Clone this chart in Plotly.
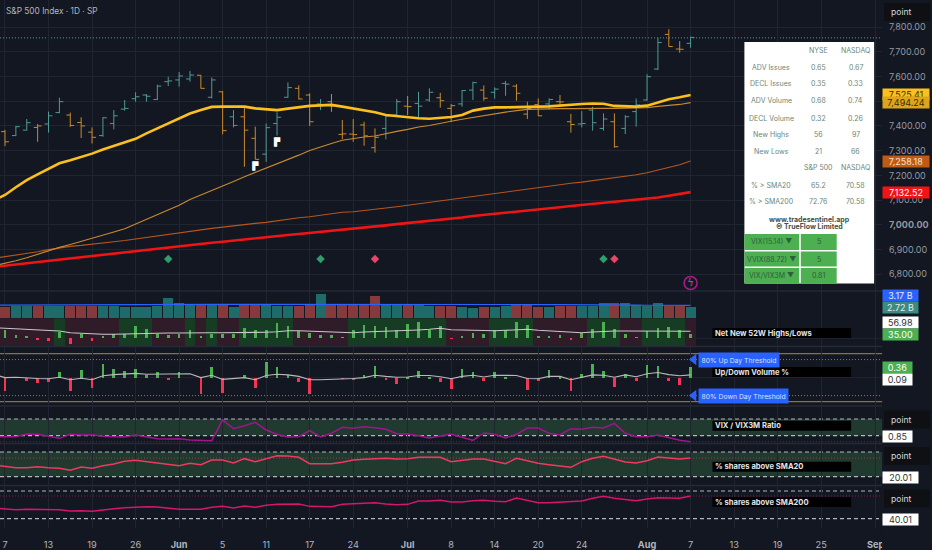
import plotly.graph_objects as go

# daily bars
opens = [7377,7361,7383,7394,7408,7454,7444,7414,7375,7361,7410,7468,7510,7525,7507,7579,7586,7590,7605,7516,7538,7437,7437,7350,7286,7410,7516,7552,7525,7489,7498,7366,
         7367,7404,7312,7390,7444,7480,7491,7505,7514,7471,7489,7545,7545,7536,7572,7561,7448,7486,7489,7498,7417,7408,7464,7390,7417,7390,7458,7505,7630,7770,7711,7734]
highs = [7384,7400,7428,7408,7458,7514,7454,7435,7394,7435,7464,7505,7536,7529,7567,7599,7618,7622,7606,7596,7541,7464,7480,7397,7410,7455,7576,7564,7532,7509,7529,7424,
         7428,7417,7390,7440,7509,7521,7538,7552,7534,7489,7545,7579,7564,7556,7582,7569,7498,7511,7511,7525,7449,7460,7478,7451,7451,7444,7511,7609,7757,7791,7743,7761]
lows = [7319,7359,7381,7336,7373,7451,7396,7351,7329,7356,7386,7462,7498,7498,7505,7561,7559,7579,7551,7511,7366,7394,7235,7265,7255,7361,7514,7507,7400,7464,7457,7346,
        7336,7320,7292,7346,7437,7444,7427,7498,7474,7417,7478,7505,7502,7510,7522,7502,7428,7440,7467,7482,7373,7394,7381,7381,7312,7367,7397,7502,7626,7721,7696,7716]
closes = [7336,7397,7413,7400,7441,7498,7402,7400,7354,7433,7441,7471,7518,7520,7561,7582,7602,7606,7552,7586,7381,7402,7383,7265,7393,7435,7555,7509,7417,7485,7481,7368,
          7365,7360,7354,7440,7498,7478,7480,7536,7502,7482,7543,7575,7512,7549,7569,7532,7470,7441,7507,7497,7406,7410,7413,7428,7316,7437,7485,7599,7737,7721,7710,7758]

# the line series start one session before the first bar, off the left edge
sma20 = [7100,7121,7152,7181,7204,7226,7249,7261,7273,7288,7305,7320,7332,7348,7370,7390,7410,7431,7450,7464,7477,7478,7478,7478,7471,7467,7464,7470,7477,7481,7483,7485,7478,
         7471,7464,7455,7444,7439,7435,7431,7429,7431,7436,7444,7462,7470,7475,7475,7477,7477,7478,7479,7483,7486,7489,7491,7490,7481,7478,7478,7482,7495,7508,7516,7525.41]
sma50 = [6835,6844,6855,6867,6882,6896,6909,6921,6933,6944,6956,6971,6984,7003,7021,7040,7060,7079,7103,7121,7137,7156,7175,7195,7212,7231,7245,7265,7282,7301,7316,7329,7342,
         7350,7355,7359,7370,7378,7386,7396,7402,7409,7419,7427,7435,7441,7449,7456,7462,7467,7468,7470,7470,7470,7471,7471,7471,7471,7471,7471,7474,7479,7483,7487,7494.24]
sma100 = [6865,6871,6878,6885,6891,6900,6908,6913,6917,6921,6927,6932,6937,6943,6951,6958,6964,6970,6976,6982,6986,6991,6997,7001,7006,7010,7017,7024,7029,7033,7040,7045,7051,
          7053,7057,7063,7068,7073,7079,7084,7090,7095,7102,7107,7114,7121,7127,7134,7139,7146,7152,7157,7162,7168,7173,7179,7184,7189,7196,7203,7211,7222,7232,7243,7258.18]
sma200 = [6830,6835,6839,6844,6850,6854,6859,6865,6869,6874,6879,6883,6889,6894,6898,6904,6909,6913,6918,6923,6928,6932,6937,6941,6945,6951,6955,6959,6963,6967,6971,6975,6980,
          6986,6990,6994,6998,7003,7007,7013,7017,7021,7026,7030,7036,7040,7044,7049,7053,7059,7063,7067,7071,7076,7080,7084,7088,7092,7096,7100,7104,7111,7118,7125,7132.52]

# volume in billions
volume = [2.88,2.97,3.05,2.97,2.97,2.97,2.97,2.97,2.97,3.05,3.05,2.80,2.88,2.88,3.05,5.11,3.71,3.46,3.30,3.30,3.63,2.80,3.30,3.30,3.46,2.97,3.13,3.05,3.46,6.02,3.54,3.46,
          3.46,3.46,5.52,3.46,3.63,3.46,3.46,3.05,3.05,3.05,2.88,2.55,2.80,2.88,3.13,3.30,3.21,2.80,2.88,3.05,3.13,3.05,3.05,3.71,3.71,3.71,3.30,3.05,3.71,3.05,3.05,2.72]
volume_avg = [3.25,3.25,3.25,3.27,3.27,3.28,3.28,3.28,3.30,3.30,3.30,3.30,3.30,3.30,3.30,3.32,3.38,3.40,3.42,3.42,3.42,3.44,3.44,3.44,3.44,3.46,3.46,3.46,3.46,3.48,3.52,3.54,3.54,
              3.54,3.54,3.56,3.56,3.56,3.56,3.56,3.55,3.55,3.54,3.54,3.52,3.52,3.50,3.50,3.50,3.48,3.45,3.40,3.36,3.32,3.30,3.28,3.28,3.28,3.26,3.24,3.22,3.22,3.20,3.18,3.17]

net_highs = [67,24,13,-19,-27,48,-45,35,-27,11,29,32,93,75,35,27,35,61,11,35,35,29,80,67,67,123,99,53,40,27,27,8,
             61,101,99,88,61,115,125,67,99,-8,19,43,35,61,61,131,107,19,16,27,-16,43,75,131,75,32,8,59,80,91,61,35]
net_highs_ma = [85,80,77,72,69,64,59,45,40,32,32,32,35,40,40,40,43,43,45,45,45,45,45,45,45,48,53,61,61,59,56,51,48,
                45,51,53,56,59,61,67,72,80,69,67,64,59,61,64,69,72,64,59,53,48,45,51,56,59,59,59,59,59,61,61,56.98]
breadth_up = [0,0,0,0,0,1,0,0,0,0,0,1,1,1,0,0,0,1,0,1,0,0,1,1,1,1,1,0,0,0,0,0,
              1,1,1,1,1,1,1,1,1,0,0,0,0,1,1,1,1,0,0,0,0,0,1,1,1,0,0,1,1,1,1,0]

updown = [-0.43,0.0,-0.10,-0.17,-0.14,0.22,-0.43,0.26,-0.33,0.46,0.31,0.23,0.30,0.12,0.19,-0.04,0.19,0.0,-0.54,0.36,-0.51,-0.03,0.12,-0.34,0.52,0.36,0.10,-0.14,-0.54,0.0,0.0,-0.03,
          -0.04,0.12,0.40,-0.04,-0.19,0.01,0.24,0.01,-0.14,-0.36,0.29,0.20,-0.11,0.20,0.01,0.0,-0.38,-0.11,0.26,0.05,-0.44,0.14,0.48,0.24,-0.30,0.13,-0.10,0.44,0.41,-0.11,-0.23,0.36]
updown_ma = [0.11,0.0,0.01,-0.02,-0.03,-0.04,0.01,-0.07,-0.02,-0.07,0.06,0.10,0.12,0.14,0.11,0.12,0.13,0.14,0.13,0.0,0.08,-0.06,-0.03,0.0,-0.07,0.07,0.11,0.09,0.04,-0.07,-0.07,-0.06,-0.05,
             -0.03,0.0,0.08,0.04,0.01,0.02,0.07,0.07,0.03,-0.04,0.04,0.08,0.02,0.08,0.08,0.07,-0.03,-0.04,0.04,0.04,-0.07,0.01,0.09,0.08,0.01,0.09,0.03,0.13,0.17,0.10,0.06,0.09]

vix_ratio = [.844,.844,.844,.860,.858,.846,.834,.858,.854,.856,.846,.844,.842,.854,.844,.832,.830,.832,.824,.824,.820,.944,.892,.910,.930,.884,.858,.842,.844,.880,.842,.864,.900,
             .894,.904,.898,.888,.862,.860,.850,.836,.848,.860,.840,.822,.866,.858,.836,.858,.896,.896,.864,.854,.892,.888,.900,.896,.924,.864,.844,.844,.854,.836,.822,.814]
pct_sma20 = [48.0,44.3,41.9,41.9,44.3,41.9,40.3,35.4,43.5,40.3,46.8,50.8,57.3,59.7,56.5,54.9,51.6,46.8,52.4,49.2,60.6,60.6,53.3,63.8,56.5,63.8,71.1,70.3,67.0,51.6,50.8,51.6,54.9,
             60.6,62.2,63.0,64.6,63.0,63.8,67.0,67.8,67.0,56.5,58.9,63.0,63.0,56.5,51.6,64.6,58.9,52.4,49.2,46.0,42.7,56.5,64.6,69.5,63.0,55.7,53.3,58.9,67.8,65.4,63.0,65.2]
pct_sma200 = [55.4,54.5,53.0,53.5,53.5,52.5,53.0,51.1,51.6,50.6,53.0,54.5,55.9,56.9,57.4,56.9,54.9,53.5,53.5,53.5,56.4,57.8,55.4,58.3,56.4,59.3,60.7,60.7,61.2,57.8,57.8,57.4,60.7,
              61.7,61.7,63.1,61.2,60.2,60.7,65.5,65.5,66.5,64.1,64.1,66.0,66.5,65.1,64.6,69.9,66.0,63.1,63.1,64.1,64.6,65.5,69.4,72.3,69.4,68.0,66.0,68.4,70.4,69.9,69.4,72.76]

tick_days = [0,4,8,12,16,20,24,28,32,37,41,45,49,53,59,63,67,71,75,80]
tick_names = ["7","13","19","26","<b>Jun</b>","5","11","17","24","<b>Jul</b>","8","14","20","24","<b>Aug</b>","7","13","19","25","<b>Sep</b>"]
price_ticks = [6800,6900,7000,7100,7200,7300,7400,7500,7600,7700,7800]
price_names = ["6,800.00","6,900.00","<b>7,000.00</b>","7,100.00","7,200.00","7,300.00","7,400.00","7,500.00","7,600.00","7,700.00","7,800.00"]

green_signal_days = [15,29,55]
red_signal_days = [34,56]
flag_days = [23,25]
flag_prices = [7232,7330]

table_labels = ["ADV Issues","DECL Issues","ADV Volume","DECL Volume","New Highs","New Lows","","% > SMA20","% > SMA200"]
table_first = ["0.65","0.35","0.68","0.32","56","21","S&P 500","65.2","72.76"]
table_second = ["0.67","0.33","0.74","0.26","97","66","NASDAQ","70.58","70.58"]
vol_labels = ["VIX(15.14) ▼","VVIX(88.72) ▼","VIX/VIX3M ▼"]
vol_values = ["5","5","0.81"]

W, H = 932, 550
BG = "#131722"
GRID = "#212531"
TEAL = "#4f9a94"
ORANGE = "#c98a2e"
LEVEL = "#b4b6bc"
DASHES = "4px,3px"
DOTS = "1px,2px"


def px(x):
    return x / W


def py(y):
    return 1 - y / H


days = list(range(len(closes)))
line_days = [-1] + days
is_up = [False] + [closes[i] > closes[i - 1] for i in days[1:]]
up_days = [i for i in days if is_up[i]]
down_days = [i for i in days if not is_up[i]]

fig = go.Figure()

for subset, color in [(up_days, TEAL), (down_days, ORANGE)]:
    fig.add_trace(go.Ohlc(
        x=subset,
        open=[opens[i] for i in subset],
        high=[highs[i] for i in subset],
        low=[lows[i] for i in subset],
        close=[closes[i] for i in subset],
        increasing_line_color=color, decreasing_line_color=color,
        line_width=1, tickwidth=0.36, hoverinfo="skip",
    ))

for values, color, width in [(sma200, "#f01414", 2.6), (sma100, "#b8561c", 1.1), (sma50, "#c98a2e", 1.1), (sma20, "#fbc01e", 2.6)]:
    fig.add_trace(go.Scatter(x=line_days, y=values, mode="lines", line=dict(color=color, width=width), hoverinfo="skip"))

signal_price = 6862
fig.add_trace(go.Scatter(x=green_signal_days, y=[signal_price] * len(green_signal_days), mode="markers",
                         marker=dict(symbol="diamond", size=6.5, color="#2e9e6b"), hoverinfo="skip"))
fig.add_trace(go.Scatter(x=red_signal_days, y=[signal_price] * len(red_signal_days), mode="markers",
                         marker=dict(symbol="diamond", size=6.5, color="#e8456b"), hoverinfo="skip"))
fig.add_trace(go.Scatter(x=flag_days, y=flag_prices, mode="text", text=["▛"] * len(flag_days), textposition="middle center",
                         textfont=dict(size=8, color="white", family="DejaVu Sans"), hoverinfo="skip"))
fig.add_trace(go.Scatter(x=[63], y=[6765], mode="markers+text", text=["ϟ"], textposition="middle center",
                         textfont=dict(size=10, color="#c43bb0", family="DejaVu Sans"),
                         marker=dict(symbol="circle-open", size=13, color="#a81b8d", line=dict(width=1.5)), hoverinfo="skip"))

# volume
fig.add_trace(go.Bar(x=days, y=volume, yaxis="y2", width=0.92,
                     marker=dict(color=["#1f6b6a" if u else "#873a3c" for u in is_up], line_width=0), hoverinfo="skip"))
fig.add_trace(go.Scatter(x=line_days, y=volume_avg, yaxis="y2", mode="lines", line=dict(color="#2962ff", width=1.2), hoverinfo="skip"))

# net new highs/lows
fig.add_trace(go.Bar(x=days, y=[221.6] * len(days), base=[-61.6] * len(days), yaxis="y3", width=1,
                     marker=dict(color=["#163d24" if b else "#2f1c28" for b in breadth_up], line_width=0), hoverinfo="skip"))
fig.add_trace(go.Bar(x=days, y=net_highs, yaxis="y3", width=0.25,
                     marker=dict(color=["#4caf50" if v >= 0 else "#f23654" for v in net_highs], line_width=0), hoverinfo="skip"))
fig.add_trace(go.Scatter(x=line_days, y=net_highs_ma, yaxis="y3", mode="lines", line=dict(color="#c8c9cc", width=1.1), hoverinfo="skip"))

# up/down volume
fig.add_trace(go.Bar(x=days, y=updown, yaxis="y4", width=0.25,
                     marker=dict(color=["#4caf50" if v >= 0 else "#f23654" for v in updown], line_width=0), hoverinfo="skip"))
fig.add_trace(go.Scatter(x=line_days, y=updown_ma, yaxis="y4", mode="lines", line=dict(color="#b8b9bd", width=1.1), hoverinfo="skip"))
fig.add_trace(go.Scatter(x=[63.3, 63.3], y=[0.6, -0.6], yaxis="y4", mode="markers",
                         marker=dict(symbol="triangle-left", size=10, color="#2962ff"), hoverinfo="skip"))

fig.add_trace(go.Scatter(x=line_days, y=vix_ratio, yaxis="y5", mode="lines", line=dict(color="#a0148c", width=1.5), hoverinfo="skip"))
fig.add_trace(go.Scatter(x=line_days, y=pct_sma20, yaxis="y6", mode="lines", line=dict(color="#f2385f", width=1.5), hoverinfo="skip"))
fig.add_trace(go.Scatter(x=line_days, y=pct_sma200, yaxis="y7", mode="lines", line=dict(color="#d6156f", width=1.5), hoverinfo="skip"))

shapes = []


def hline(yref, value, color, width, dash):
    shapes.append(dict(type="line", xref="paper", x0=0, x1=px(884), yref=yref, y0=value, y1=value,
                       line=dict(color=color, width=width, dash=dash), layer="below"))


def band(yref, y0, y1, color):
    shapes.append(dict(type="rect", xref="paper", x0=0, x1=px(884), yref=yref, y0=y0, y1=y1,
                       fillcolor=color, line_width=0, layer="below"))


def paper_rect(x0, x1, y0, y1, color, layer="above"):
    shapes.append(dict(type="rect", xref="paper", yref="paper", x0=px(x0), x1=px(x1), y0=py(y1), y1=py(y0),
                       fillcolor=color, line_width=0, layer=layer))


hline("y", closes[-1] - 2, TEAL, 1, DOTS)
hline("y3", 0, GRID, 1, "solid")
hline("y4", 0, GRID, 1, "solid")
for level in [0.8, -0.8]:
    hline("y4", level, "#8a7430", 1.4, "solid")
for level in [0.6, -0.6]:
    hline("y4", level, "#a8782c", 1, DOTS)

band("y5", 0.85, 0.95, "#203a30")
hline("y5", 0.85, LEVEL, 1.1, DASHES)
hline("y5", 0.95, LEVEL, 1.1, DASHES)
hline("y5", vix_ratio[-1], "rgba(160,20,140,0.7)", 1, DOTS)
band("y6", 20, 80, "#203a30")
hline("y6", 20, LEVEL, 1.1, DASHES)
hline("y6", 80, LEVEL, 1.1, DASHES)
hline("y6", pct_sma20[-1], "rgba(242,56,95,0.6)", 1, DOTS)
hline("y7", 40, LEVEL, 1.1, DASHES)
hline("y7", 80, LEVEL, 1.1, DASHES)
hline("y7", pct_sma200[-1], "rgba(214,21,111,0.6)", 1, DOTS)

for sep in [291, 346.5, 406, 443.5, 485.5]:
    paper_rect(0, 884, sep - 0.7, sep + 0.7, "#262a36", layer="below")

# cut the axis labels at the price scale edge, then the table panel
paper_rect(884, 932, 528, 550, BG)
paper_rect(746, 876, 42, 283.5, "#ffffff")
for top, bottom in [(234, 250), (251.5, 266.5), (268, 283)]:
    paper_rect(746, 801, top, bottom, "#4caf50")
    paper_rect(802.5, 838.5, top, bottom, "#4caf50")

notes = []


def text_at(x, y, text, size=7, color="#6b8678", anchor="center"):
    notes.append(dict(xref="paper", yref="paper", x=px(x), y=py(y), text=text, showarrow=False, xanchor=anchor, yanchor="middle",
                      font=dict(size=size, color=color, family="Inter"), borderpad=0))


def tag(y, text, bg, fg, width=34, yref="paper", size=9):
    notes.append(dict(xref="paper", yref=yref, x=px(883.5), y=y if yref != "paper" else py(y), text=text, showarrow=False,
                      xanchor="left", yanchor="middle", bgcolor=bg, width=width, height=10, align="center", borderpad=0.5,
                      font=dict(size=size, color=fg, family="Inter")))


def point_button(y):
    paper_rect(886, 932, y - 9, y + 9, "#0f1014")
    text_at(892, y, "point", size=8.6, color="#d8d9dc", anchor="left")


def pane_label(y, text):
    paper_rect(714, 853, y - 5, y + 5, "#000000")
    text_at(715.5, y, "<b>" + text + "</b>", size=7.6, color="#e4e5e8", anchor="left")


text_at(5, 11.5, "S&P 500 Index · 1D · SP", size=8.3, color="#b2b5be", anchor="left")

text_at(820, 50.5, "NYSE")
text_at(857.5, 50.5, "NASDAQ")
row_ys = [67.5, 84, 101, 118, 134.5, 151.5, 168, 185, 202]
for y, label, first, second in zip(row_ys, table_labels, table_first, table_second):
    text_at(773, y, label)
    text_at(820, y, first)
    text_at(857.5, y, second)
text_at(811, 219, "<b>www.tradesentinel.app</b>", color="#3f4f4a")
text_at(811, 226, "<b>© TrueFlow Limited</b>", color="#3f4f4a")
for y, label, value in zip([242, 259, 275.5], vol_labels, vol_values):
    text_at(773.5, y, label, color="#2c5e3c")
    text_at(820.5, y, value, color="#2c5e3c")

tag(sma200[-1], "7,132.52", "#f01414", "#ffffff", width=45, yref="y")
tag(sma100[-1], "7,258.18", "#c05a14", "#f4e3c8", width=45, yref="y")
tag(sma20[-1], "7,525.41", "#fbc01e", "#3a2c08", width=45, yref="y")
tag(sma50[-1], "7,494.24", "#dca61c", "#3a2c08", width=45, yref="y")
tag(295, "3.17 B", "#2962ff", "#e6ecff")
tag(307, "2.72 B", "#3f8a80", "#e0eee9")
tag(322, "56.98", "#ffffff", "#333333")
tag(334, "35.00", "#4caf50", "#ffffff")
tag(367, "0.36", "#4caf50", "#ffffff", width=28)
tag(379, "0.09", "#ffffff", "#333333", width=28)
tag(436, "0.85", "#ffffff", "#333333", width=28)
tag(477, "20.01", "#ffffff", "#333333")
tag(519, "40.01", "#ffffff", "#333333")

for y in [12, 419.5, 456, 498.5]:
    point_button(y)

pane_label(333, "Net New 52W Highs/Lows")
pane_label(372, "Up/Down Volume %")
pane_label(425.7, "VIX / VIX3M Ratio")
pane_label(466.7, "% shares above SMA20")
pane_label(502, "% shares above SMA200")

for level, text in [(0.6, "80% Up Day Threshold"), (-0.6, "80% Down Day Threshold")]:
    notes.append(dict(xref="x", yref="y4", x=63.7, y=level, text=text, showarrow=False, xanchor="left", yanchor="middle",
                      bgcolor="#2962ff", borderpad=2.5, font=dict(size=6.8, color="#d9e3ff", family="Inter")))

hidden_y = dict(visible=False, showgrid=False, zeroline=False, fixedrange=True)

fig.update_layout(
    width=W, height=H,
    margin=dict(l=0, r=0, t=0, b=0),
    paper_bgcolor=BG, plot_bgcolor=BG,
    showlegend=False, barmode="overlay", bargap=0,
    shapes=shapes, annotations=notes,
    xaxis=dict(domain=[0, px(884)], range=[-0.458, 80.6], anchor="y7", rangeslider=dict(visible=False),
               tickmode="array", tickvals=tick_days, ticktext=tick_names, showgrid=True, gridcolor=GRID, gridwidth=1,
               zeroline=False, showline=False, ticks="outside", ticklen=8, tickcolor=BG,
               tickfont=dict(size=9.2, color="#b2b5be", family="Inter")),
    yaxis=dict(domain=[py(292), py(0)], range=[6728.6, 7909.2], side="right", anchor="x", tickmode="array",
               tickvals=price_ticks, ticktext=price_names, showgrid=True, gridcolor=GRID, zeroline=False,
               ticks="outside", ticklen=4, tickcolor=BG,
               tickfont=dict(size=9, color="#9598a1", family="Inter")),
    yaxis2=dict(domain=[py(318.3), py(292)], range=[0, 6.5], **hidden_y),
    yaxis3=dict(domain=[py(346), py(318.3)], range=[-61.6, 160], **hidden_y),
    yaxis4=dict(domain=[py(406), py(346.5)], range=[-0.946, 1.036], **hidden_y),
    yaxis5=dict(domain=[py(443.5), py(406)], range=[0.803, 1.028], **hidden_y),
    yaxis6=dict(domain=[py(485.5), py(443.5)], range=[-1.5, 100.7], **hidden_y),
    yaxis7=dict(domain=[py(528), py(485.5)], range=[26.5, 88], **hidden_y),
)

fig.write_html("out.html", config=dict(displayModeBar=False),
               post_script="document.body.style.margin='0';document.documentElement.style.overflow='hidden';")
